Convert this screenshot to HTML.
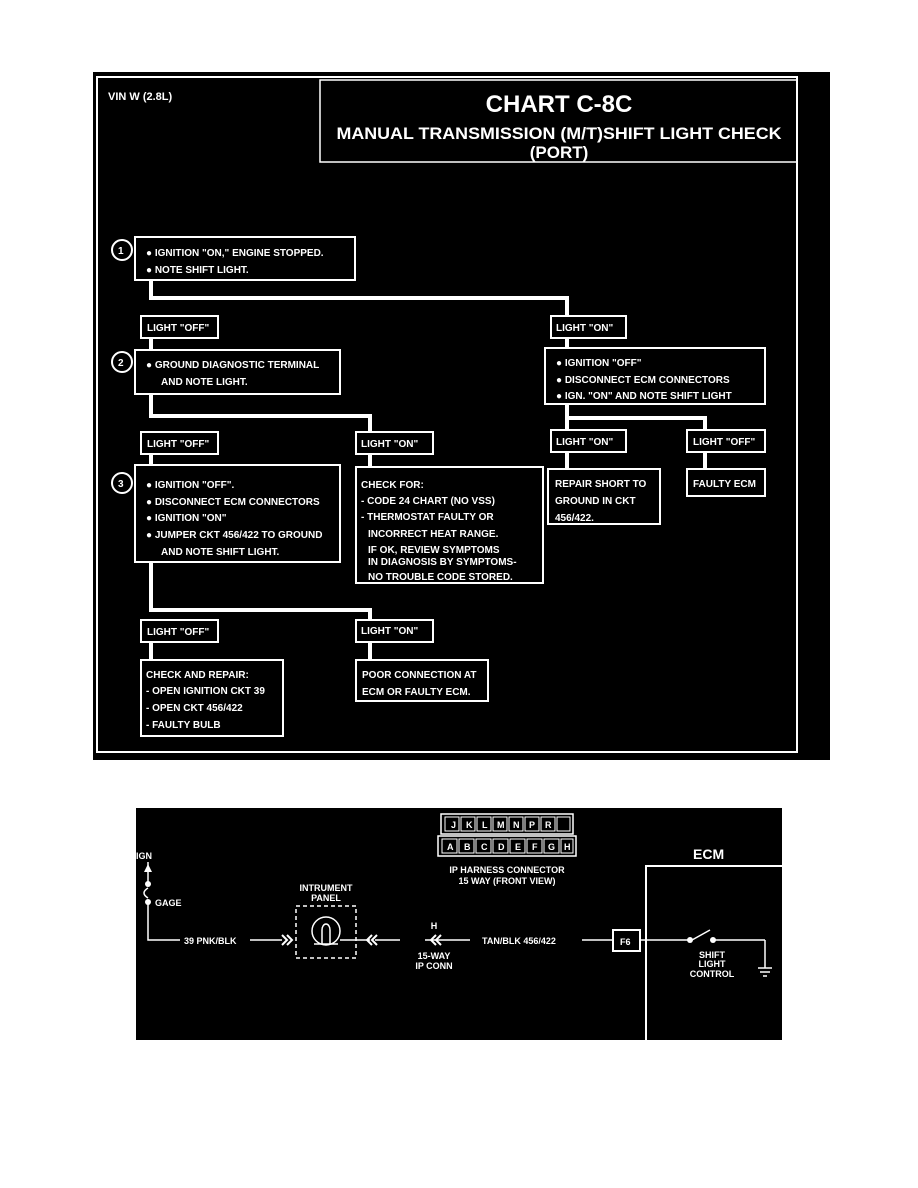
<!DOCTYPE html>
<html><head><meta charset="utf-8"><style>
html,body{margin:0;padding:0;background:#fff;}
svg{display:block;}
text{font-family:"Liberation Sans Narrow","Liberation Sans",sans-serif;font-weight:bold;fill:#fff;}
</style></head><body>
<svg width="918" height="1188" viewBox="0 0 918 1188" xmlns="http://www.w3.org/2000/svg" font-size="10">
<rect x="0" y="0" width="918" height="1188" fill="#fff"/>
<rect x="93" y="72" width="737" height="688" fill="#000"/>
<g fill="none" stroke="#fff" stroke-width="2">
<rect x="97" y="77" width="700" height="675"/>
<rect x="320" y="80" width="477" height="82" stroke-width="1.5"/>
<rect x="135" y="237" width="220" height="43"/>
<rect x="141" y="316" width="77" height="22"/>
<rect x="551" y="316" width="75" height="22"/>
<rect x="135" y="350" width="205" height="44"/>
<rect x="545" y="348" width="220" height="56"/>
<rect x="141" y="432" width="77" height="22"/>
<rect x="356" y="432" width="77" height="22"/>
<rect x="551" y="430" width="75" height="22"/>
<rect x="687" y="430" width="78" height="22"/>
<rect x="135" y="465" width="205" height="97"/>
<rect x="356" y="467" width="187" height="116"/>
<rect x="548" y="469" width="112" height="55"/>
<rect x="687" y="469" width="78" height="27"/>
<rect x="141" y="620" width="77" height="22"/>
<rect x="356" y="620" width="77" height="22"/>
<rect x="141" y="660" width="142" height="76"/>
<rect x="356" y="660" width="132" height="41"/>
<circle cx="122" cy="250" r="10"/>
<circle cx="122" cy="362" r="10"/>
<circle cx="122" cy="483" r="10"/>
</g>
<g fill="none" stroke="#fff" stroke-width="4">
<polyline points="151,280 151,298 567,298 567,316"/>
<line x1="151" y1="338" x2="151" y2="350"/>
<line x1="567" y1="338" x2="567" y2="348"/>
<polyline points="151,394 151,416 370,416 370,432"/>
<line x1="151" y1="454" x2="151" y2="465"/>
<line x1="370" y1="454" x2="370" y2="467"/>
<polyline points="567,404 567,430"/>
<polyline points="567,418 705,418 705,430"/>
<line x1="567" y1="452" x2="567" y2="469"/>
<line x1="705" y1="452" x2="705" y2="469"/>
<polyline points="151,562 151,610 370,610 370,620"/>
<line x1="151" y1="642" x2="151" y2="660"/>
<line x1="370" y1="642" x2="370" y2="660"/>
</g>
<text x="108" y="100" font-size="11">VIN W (2.8L)</text>
<text x="559" y="112" font-size="24" text-anchor="middle">CHART C-8C</text>
<text x="559" y="139" font-size="17" text-anchor="middle" textLength="445" lengthAdjust="spacingAndGlyphs">MANUAL TRANSMISSION (M/T)SHIFT LIGHT CHECK</text>
<text x="559" y="158" font-size="17" text-anchor="middle">(PORT)</text>
<text x="118" y="254">1</text>
<text x="118" y="366">2</text>
<text x="118" y="487">3</text>
<g font-size="10">
<text x="146" y="256">●  IGNITION "ON," ENGINE STOPPED.</text>
<text x="146" y="273">●  NOTE SHIFT LIGHT.</text>
<text x="147" y="331">LIGHT "OFF"</text>
<text x="556" y="331">LIGHT "ON"</text>
<text x="146" y="368">●  GROUND DIAGNOSTIC TERMINAL</text>
<text x="161" y="385">AND NOTE LIGHT.</text>
<text x="556" y="366">●  IGNITION "OFF"</text>
<text x="556" y="383">●  DISCONNECT ECM  CONNECTORS</text>
<text x="556" y="399">●  IGN. "ON" AND NOTE SHIFT LIGHT</text>
<text x="147" y="447">LIGHT "OFF"</text>
<text x="361" y="447">LIGHT "ON"</text>
<text x="556" y="445">LIGHT "ON"</text>
<text x="693" y="445">LIGHT "OFF"</text>
<text x="146" y="488">●  IGNITION "OFF".</text>
<text x="146" y="505">●  DISCONNECT ECM CONNECTORS</text>
<text x="146" y="521">●  IGNITION "ON"</text>
<text x="146" y="538">●  JUMPER CKT 456/422 TO GROUND</text>
<text x="161" y="555">AND NOTE SHIFT LIGHT.</text>
<text x="361" y="488">CHECK FOR:</text>
<text x="361" y="504">- CODE 24 CHART  (NO VSS)</text>
<text x="361" y="520">- THERMOSTAT FAULTY OR</text>
<text x="368" y="537">INCORRECT HEAT RANGE.</text>
<text x="368" y="553">IF OK, REVIEW SYMPTOMS</text>
<text x="368" y="565">IN DIAGNOSIS  BY  SYMPTOMS-</text>
<text x="368" y="580">NO TROUBLE CODE STORED.</text>
<text x="555" y="487">REPAIR SHORT TO</text>
<text x="555" y="504">GROUND IN CKT</text>
<text x="555" y="521">456/422.</text>
<text x="693" y="487">FAULTY ECM</text>
<text x="147" y="635">LIGHT "OFF"</text>
<text x="361" y="634">LIGHT "ON"</text>
<text x="146" y="678">CHECK AND REPAIR:</text>
<text x="146" y="694">-  OPEN IGNITION CKT 39</text>
<text x="146" y="711">-  OPEN CKT 456/422</text>
<text x="146" y="728">-  FAULTY BULB</text>
<text x="362" y="678">POOR CONNECTION AT</text>
<text x="362" y="695">ECM OR FAULTY ECM.</text>
</g>
<rect x="136" y="808" width="646" height="232" fill="#000"/>
<g stroke="#fff" stroke-width="1.5" fill="none">
<rect x="441" y="814" width="132" height="20"/>
<rect x="438" y="836" width="138" height="20"/>
<g stroke-width="1">
<rect x="445" y="817" width="14" height="14"/><rect x="461" y="817" width="14" height="14"/><rect x="477" y="817" width="14" height="14"/><rect x="493" y="817" width="14" height="14"/><rect x="509" y="817" width="14" height="14"/><rect x="525" y="817" width="14" height="14"/><rect x="541" y="817" width="14" height="14"/><rect x="557" y="817" width="13" height="14"/>
<rect x="442" y="839" width="15" height="14"/><rect x="459" y="839" width="15" height="14"/><rect x="476" y="839" width="15" height="14"/><rect x="493" y="839" width="15" height="14"/><rect x="510" y="839" width="15" height="14"/><rect x="527" y="839" width="15" height="14"/><rect x="544" y="839" width="15" height="14"/><rect x="561" y="839" width="12" height="14"/>
</g>
<polyline points="646,1040 646,866 782,866" stroke-width="2"/>
<polyline points="148,902 148,940 180,940"/>
<line x1="148" y1="862" x2="148" y2="884"/>
<path d="M148,888 q-8,5 0,10"/>
<line x1="250" y1="940" x2="282" y2="940"/>
<line x1="340" y1="940" x2="370" y2="940"/>
<line x1="375" y1="940" x2="400" y2="940"/>
<line x1="425" y1="940" x2="470" y2="940"/>
<line x1="582" y1="940" x2="612" y2="940"/>
<line x1="640" y1="940" x2="690" y2="940"/>
<line x1="692" y1="940" x2="710" y2="930"/>
<line x1="713" y1="940" x2="765" y2="940"/>
<line x1="765" y1="940" x2="765" y2="968"/>
<line x1="758" y1="968" x2="772" y2="968"/>
<line x1="760" y1="972" x2="770" y2="972"/>
<line x1="763" y1="976" x2="767" y2="976"/>
<rect x="296" y="906" width="60" height="52" stroke-dasharray="4,3"/>
<ellipse cx="326" cy="931" rx="14" ry="14"/>
<path d="M322,944 v-14 a4,6 0 0 1 8,0 v14 M314,944 h24"/>
<rect x="613" y="930" width="27" height="21" stroke-width="2"/>
<path d="M282,935 l5,5 -5,5 M287,935 l5,5 -5,5" stroke-width="2"/>
<path d="M372,935 l-5,5 5,5 M377,935 l-5,5 5,5" stroke-width="2"/>
<path d="M436,935 l-5,5 5,5 M441,935 l-5,5 5,5" stroke-width="2"/>
</g>
<polygon points="148,864 144,872 152,872" fill="#fff"/>
<circle cx="148" cy="884" r="3" fill="#fff"/>
<circle cx="148" cy="902" r="3" fill="#fff"/>
<circle cx="690" cy="940" r="3" fill="#fff"/>
<circle cx="713" cy="940" r="3" fill="#fff"/>
<g font-size="9">
<text x="451" y="828">J</text><text x="466" y="828">K</text><text x="482" y="828">L</text><text x="497" y="828">M</text><text x="513" y="828">N</text><text x="529" y="828">P</text><text x="545" y="828">R</text>
<text x="447" y="850">A</text><text x="464" y="850">B</text><text x="481" y="850">C</text><text x="498" y="850">D</text><text x="515" y="850">E</text><text x="532" y="850">F</text><text x="548" y="850">G</text><text x="564" y="850">H</text>
<text x="507" y="873" text-anchor="middle">IP HARNESS CONNECTOR</text>
<text x="507" y="884" text-anchor="middle">15 WAY (FRONT VIEW)</text>
<text x="136" y="859">IGN</text>
<text x="155" y="906">GAGE</text>
<text x="326" y="891" text-anchor="middle">INTRUMENT</text>
<text x="326" y="901" text-anchor="middle">PANEL</text>
<text x="184" y="944">39 PNK/BLK</text>
<text x="434" y="929" text-anchor="middle">H</text>
<text x="434" y="959" text-anchor="middle">15-WAY</text>
<text x="434" y="969" text-anchor="middle">IP CONN</text>
<text x="482" y="944">TAN/BLK 456/422</text>
<text x="620" y="945">F6</text>
<text x="712" y="958" text-anchor="middle">SHIFT</text>
<text x="712" y="967" text-anchor="middle">LIGHT</text>
<text x="712" y="977" text-anchor="middle">CONTROL</text>
</g>
<text x="693" y="859" font-size="14">ECM</text>
</svg>
</body></html>
